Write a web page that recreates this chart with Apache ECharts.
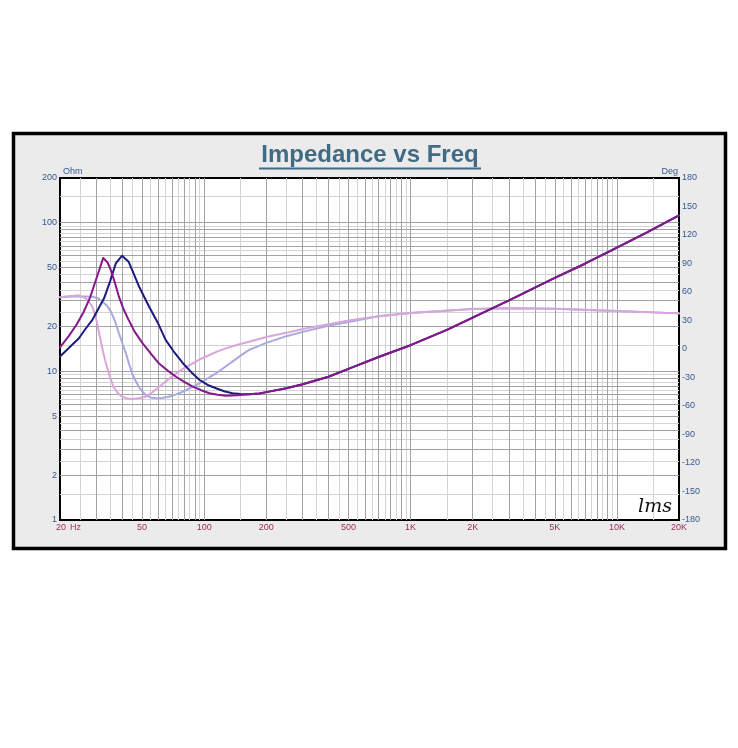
<!DOCTYPE html>
<html>
<head>
<meta charset="utf-8">
<script src="https://cdn.jsdelivr.net/npm/echarts@6/dist/echarts.min.js"></script>
<style>
html,body{margin:0;padding:0;background:#fff;}
#chart{width:738px;height:748px;}
</style>
</head>
<body>
<div id="chart"></div>
<script>
// ---- data ----
const impNavyFreq = [20,22,24.7,26.5,28.7,30.5,32.7,35,37.3,40,43,45.5,48,51,54,60,65,72,79,87,95,104,114,125,137,150,165,185,200,250,300,400,500,700,1000,1500,2000,3000,5000,7000,10000,14000,20000];
const impNavy     = [12.6,14.3,16.7,19.2,22.2,26,31,40.5,53.4,60,54.7,45.5,38,32,27.3,20.8,16.3,13.3,11.3,9.8,8.75,8.1,7.7,7.35,7.12,7.05,7.02,7.1,7.25,7.7,8.2,9.2,10.4,12.5,15,19,23,30,42.5,53,68,86,112];
const impPurpleFreq = [20,22,24,26,28,30,32.4,34,35.3,37,38.6,40.5,43,46,50,55,60,66,73,80,88,96,106,116,127,145,165,185,200,250,300,400,500,700,1000,1500,2000,3000,5000,7000,10000,14000,20000];
const impPurple     = [14.5,17.2,20.5,25,31.5,42,58,54,48,39,31.8,26.5,22.2,18.5,15.6,13.2,11.4,10.2,9.2,8.5,7.9,7.5,7.12,6.95,6.86,6.9,7.02,7.1,7.25,7.7,8.2,9.2,10.4,12.5,15,19,23,30,42.5,53,68,86,112];
const phLavFreq = [20,24,28.7,30.5,32.2,33.8,35.3,37,38.6,40.2,41.7,43.2,44.7,46.5,48.2,50,52,55,58.4,62.5,67.3,72.5,78.6,86,94.6,104,114,125,137,150,165,200,250,300,400,500,700,1000,2000,3000,5000,10000,20000];
const phLav     = [54.5,55.5,55,53.5,49.8,45.5,39.3,29,16.5,5.5,-4.5,-15.5,-25.6,-33.5,-39.7,-44.5,-48.4,-51,-51.9,-51.5,-50.2,-48,-45,-41,-36.1,-31,-25.6,-19.5,-13.3,-7,-1,6.5,13.5,18,24.5,28.5,34.5,38,42,43,42.3,40,37.5];
const phPinkFreq = [20,22,24.7,26.6,27.7,28.7,29.5,30.3,31.2,32.2,33.1,34.1,35.2,36.3,38,40,42.2,44.7,48,52,56,60.6,66.5,73.2,80,88.2,96,106,116,127,145,165,200,250,300,400,500,700,1000,2000,3000,5000,10000,20000];
const phPink     = [54.5,55.5,56.5,53.4,49.5,44.5,36.5,27,13,-1,-12,-22,-31.5,-39.7,-46,-50.2,-52,-52.6,-51.8,-50.2,-45.5,-39.7,-32.5,-25.6,-20,-15,-10.5,-6.3,-2.5,0.7,4.5,7.7,12.6,17,21,26,30,34.5,38,42,43,42.3,40,37.5];

const xTickValues = [20,50,100,200,500,1000,2000,5000,10000,20000];
const xTickLabels = ['20','50','100','200','500','1K','2K','5K','10K','20K'];
const yTickValues = [1,2,5,10,20,50,100,200];
const yTickLabels = ['1','2','5','10','20','50','100','200'];

// ---- grid lines (LMS style: dark at k*10^n, light at (k+.5)*10^n) ----
function gridVals(decades, lo, hi) {
  const dark = [], light = [];
  decades.forEach(d => {
    for (let k = 1; k <= 9; k++) {
      const a = k * d, b = (k + 0.5) * d;
      if (a > lo && a < hi) dark.push(a);
      if (b > lo && b < hi) light.push(b);
    }
  });
  return {dark, light};
}
const gx = gridVals([10,100,1000,10000], 20, 20000);
const gy = gridVals([1,10,100], 1, 200);
const DARK = '#a2a2a2', LIGHT = '#d4d4d4';
const mlData = [];
gx.light.forEach(v => mlData.push({xAxis: v, lineStyle: {color: LIGHT}}));
gy.light.forEach(v => mlData.push({yAxis: v, lineStyle: {color: LIGHT}}));
gx.dark.forEach(v => mlData.push({xAxis: v, lineStyle: {color: DARK}}));
gy.dark.forEach(v => mlData.push({yAxis: v, lineStyle: {color: DARK}}));

const pairs = (xs, ys) => xs.map((x, i) => [x, ys[i]]);

const chart = echarts.init(document.getElementById('chart'), null, {renderer: 'canvas'});
const FONT = 'Liberation Sans, Arial, sans-serif';
const BLUE = '#36598f', CRIMSON = '#9c2b5e';

const lineSeries = (name, data, color, yIdx) => ({
  name, type: 'line', data, yAxisIndex: yIdx, showSymbol: false, symbol: 'none',
  smooth: false, z: 10,
  lineStyle: {color, width: 2, join: 'round', cap: 'round'}, silent: true
});

chart.setOption({
  animation: false,
  backgroundColor: '#ffffff',
  grid: {left: 60, top: 178, width: 619, height: 342, show: true,
         backgroundColor: '#ffffff', borderColor: '#000000', borderWidth: 2, containLabel: false},
  xAxis: {type: 'log', logBase: 10, min: 20, max: 20000,
          axisLine: {show: false}, axisTick: {show: false}, axisLabel: {show: false}, splitLine: {show: false}},
  yAxis: [
    {type: 'log', logBase: 10, min: 1, max: 200,
     axisLine: {show: false}, axisTick: {show: false}, axisLabel: {show: false}, splitLine: {show: false}},
    {type: 'value', min: -180, max: 180, interval: 30, position: 'right',
     axisLine: {show: false}, axisTick: {show: false}, splitLine: {show: false},
     axisLabel: {color: BLUE, fontSize: 9, fontFamily: FONT, margin: 3}}
  ],
  series: [
    {type: 'line', data: [[20, 1]], yAxisIndex: 0, showSymbol: false, lineStyle: {opacity: 0}, silent: true, z: 1,
     markLine: {z: 1, silent: true, symbol: ['none','none'], animation: false, label: {show: false},
                lineStyle: {type: 'solid', width: 1}, data: mlData}},
    lineSeries('phase lavender', pairs(phLavFreq, phLav), '#a9a9de', 1),
    lineSeries('phase pink', pairs(phPinkFreq, phPink), '#d9a6dc', 1),
    lineSeries('impedance navy', pairs(impNavyFreq, impNavy), '#1b1b7e', 0),
    lineSeries('impedance purple', pairs(impPurpleFreq, impPurple), '#85198a', 0)
  ]
});

// ---- frame, title, tick labels placed through the chart's own scales ----
const g = [];
g.push({type: 'rect', z: -100, shape: {x: 13.5, y: 133.5, width: 712, height: 415},
        style: {fill: '#ebebeb', stroke: '#000000', lineWidth: 3.5}});
g.push({type: 'text', z: 50, x: 370, y: 155,
        style: {text: 'Impedance vs Freq', fill: '#416b84', font: 'bold 24px ' + FONT,
                textAlign: 'center', textVerticalAlign: 'middle'}});
g.push({type: 'rect', z: 50, shape: {x: 259, y: 167.5, width: 222, height: 2}, style: {fill: '#416b84'}});
g.push({type: 'text', z: 50, x: 63, y: 172,
        style: {text: 'Ohm', fill: BLUE, font: '9px ' + FONT, textAlign: 'left', textVerticalAlign: 'middle'}});
g.push({type: 'text', z: 50, x: 678, y: 172,
        style: {text: 'Deg', fill: BLUE, font: '9px ' + FONT, textAlign: 'right', textVerticalAlign: 'middle'}});
xTickValues.forEach((v, i) => {
  const px = chart.convertToPixel({xAxisIndex: 0}, v);
  g.push({type: 'text', z: 50, x: i === 0 ? px + 1 : px, y: 528,
          style: {text: xTickLabels[i], fill: CRIMSON, font: '9px ' + FONT, textAlign: 'center', textVerticalAlign: 'middle'}});
});
g.push({type: 'text', z: 50, x: 70, y: 528,
        style: {text: 'Hz', fill: CRIMSON, font: '9px ' + FONT, textAlign: 'left', textVerticalAlign: 'middle'}});
yTickValues.forEach((v, i) => {
  const py = chart.convertToPixel({yAxisIndex: 0}, v);
  g.push({type: 'text', z: 50, x: 57, y: py,
          style: {text: yTickLabels[i], fill: BLUE, font: '9px ' + FONT, textAlign: 'right', textVerticalAlign: 'middle'}});
});
g.push({type: 'text', z: 50, x: 655, y: 507,
        style: {text: 'lms', fill: '#111111', font: 'italic 19px "DejaVu Serif", serif', textAlign: 'center', textVerticalAlign: 'middle'}});
chart.setOption({graphic: g});
</script>
</body>
</html>
